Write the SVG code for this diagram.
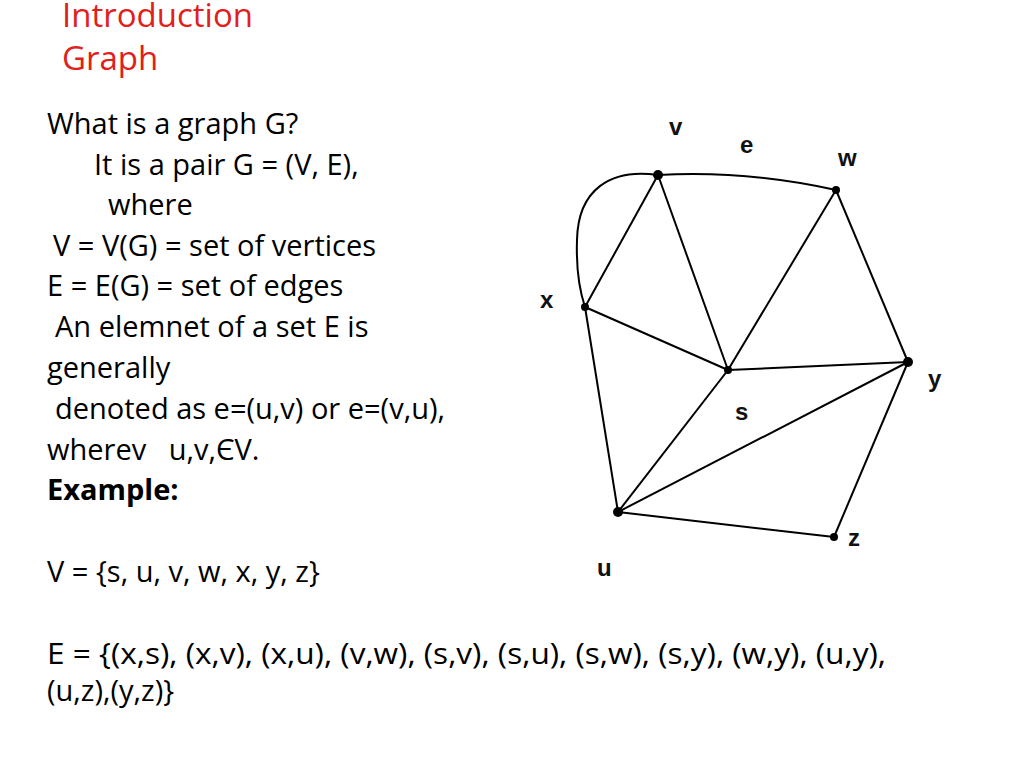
<svg xmlns="http://www.w3.org/2000/svg" width="1024" height="768" viewBox="0 0 1024 768">
<style>
.t{font-family:"Open Sans","Liberation Sans",sans-serif;font-size:29px;fill:#000}
.h{font-family:"Open Sans","Liberation Sans",sans-serif;font-size:33px;fill:#e0201b}
.l{font-family:"Liberation Sans",sans-serif;font-size:24px;font-weight:bold;fill:#111}
.e{stroke:#000;stroke-width:2;fill:none}
.n{fill:#000}
</style>
<rect width="1024" height="768" fill="#fff"/>
<text class="h" x="62" y="27">Introduction</text>
<text class="h" x="62" y="70">Graph</text>
<g class="t">
<text x="47" y="134">What is a graph G?</text>
<text x="94" y="175">It is a pair G = (V, E),</text>
<text x="108" y="215">where</text>
<text x="53" y="256">V = V(G) = set of vertices</text>
<text x="47" y="296">E = E(G) = set of edges</text>
<text x="55" y="337">An elemnet of a set E is</text>
<text x="47" y="378">generally</text>
<text x="55" y="419">denoted as e=(u,v) or e=(v,u),</text>
<text x="47" y="460" xml:space="preserve">wherev   u,v,ЄV.</text>
<text x="47" y="500" font-weight="bold">Example:</text>
<text x="47" y="582">V = {s, u, v, w, x, y, z}</text>
<text x="47" y="664" textLength="839" lengthAdjust="spacingAndGlyphs">E = {(x,s), (x,v), (x,u), (v,w), (s,v), (s,u), (s,w), (s,y), (w,y), (u,y),</text>
<text x="47" y="701">(u,z),(y,z)}</text>
</g>
<g id="edges">
<line class="e" x1="585" y1="307" x2="728" y2="370"/>
<line class="e" x1="585" y1="307" x2="658" y2="175"/>
<path class="e" d="M658,175 C610,168 578,190 577,240 C576,270 580,292 585,307"/>
<line class="e" x1="585" y1="307" x2="618" y2="512"/>
<path class="e" d="M658,175 Q745,170 836,190"/>
<line class="e" x1="728" y1="370" x2="658" y2="175"/>
<line class="e" x1="728" y1="370" x2="618" y2="512"/>
<line class="e" x1="728" y1="370" x2="836" y2="190"/>
<line class="e" x1="728" y1="370" x2="908" y2="362"/>
<line class="e" x1="836" y1="190" x2="908" y2="362"/>
<line class="e" x1="618" y1="512" x2="908" y2="362"/>
<line class="e" x1="618" y1="512" x2="834" y2="537"/>
<line class="e" x1="908" y1="362" x2="834" y2="537"/>
</g>
<g id="node-v"><circle class="n" cx="658" cy="175" r="5"/><text class="l" x="669" y="135">v</text></g>
<g id="node-w"><circle class="n" cx="836" cy="190" r="4"/><text class="l" x="838" y="166">w</text></g>
<g id="node-x"><circle class="n" cx="585" cy="307" r="4"/><text class="l" x="540" y="308">x</text></g>
<g id="node-s"><circle class="n" cx="728" cy="370" r="4"/><text class="l" x="735" y="420">s</text></g>
<g id="node-y"><circle class="n" cx="908" cy="362" r="5"/><text class="l" x="928" y="387">y</text></g>
<g id="node-u"><circle class="n" cx="618" cy="512" r="5"/><text class="l" x="597" y="576">u</text></g>
<g id="node-z"><circle class="n" cx="834" cy="537" r="4"/><text class="l" x="848" y="546">z</text></g>
<text class="l" x="740" y="153">e</text>
</svg>
